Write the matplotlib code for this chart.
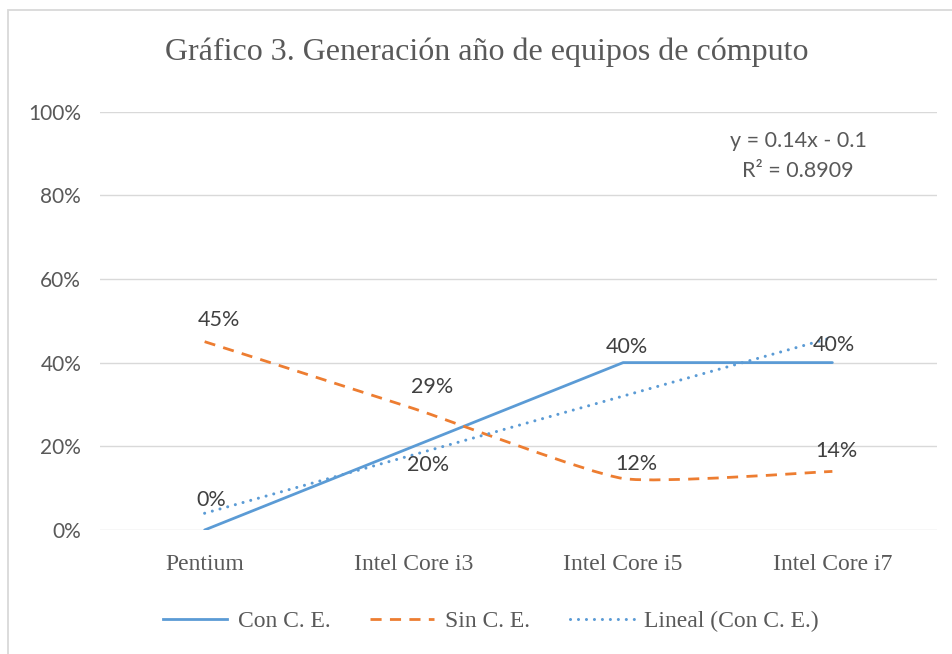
import numpy as np
import matplotlib
matplotlib.use("Agg")
import matplotlib.pyplot as plt
from matplotlib.path import Path
from matplotlib.patches import PathPatch, Rectangle
from matplotlib.lines import Line2D
from matplotlib.ticker import PercentFormatter

categories = ["Pentium", "Intel Core i3", "Intel Core i5", "Intel Core i7"]
con_ce = [0.00, 0.20, 0.40, 0.40]
sin_ce = [0.45, 0.29, 0.123, 0.14]
con_labels = ["0%", "20%", "40%", "40%"]
sin_labels = ["45%", "29%", "12%", "14%"]
yticks = [0.0, 0.2, 0.4, 0.6, 0.8, 1.0]

BLUE = "#5B9BD5"
ORANGE = "#ED7D31"
GRID = "#D9D9D9"
TXT = "#595959"
LBL = "#404040"
SERIF = "Liberation Serif"
SANS = "Lato"

fig = plt.figure(figsize=(9.53, 6.54), dpi=100)
fig.patches.append(Rectangle((8 / 953, -0.05), 1.2, (654 - 10) / 654 + 0.05,
                             transform=fig.transFigure, fill=False,
                             edgecolor=GRID, linewidth=1.3, zorder=0))

ax = fig.add_axes([100 / 953, (654 - 530) / 654, 837 / 953, 418.5 / 654])
x = np.arange(1, len(categories) + 1)

ax.set_ylim(0, 1.0)
ax.set_xlim(0.5, len(categories) + 0.5)
ax.set_yticks(yticks)
ax.yaxis.set_major_formatter(PercentFormatter(1.0, decimals=0))
ax.grid(axis="y", color=GRID, linewidth=1.0)
ax.set_axisbelow(True)
for s in ax.spines.values():
    s.set_visible(False)
ax.tick_params(axis="both", length=0)
ax.tick_params(axis="y", pad=13.5, labelsize=15, labelcolor=TXT)
ax.set_yticklabels([f"{int(round(v*100))}%" for v in yticks], family=SANS)
ax.set_xticks(x)
ax.set_xticklabels(categories, family=SERIF, fontsize=17, color=TXT)
ax.tick_params(axis="x", pad=17)

lw = 2.0
# Con C. E.
ax.plot(x, con_ce, color=BLUE, linewidth=lw, solid_capstyle="round", zorder=3)

# Sin C. E. smoothed (light bezier rounding)
tension = 1.0 / 12.0
pts = np.column_stack([x, sin_ce]).astype(float)
verts = [tuple(pts[0])]
codes = [Path.MOVETO]
n = len(pts)
for i in range(n - 1):
    p0 = pts[i - 1] if i > 0 else pts[i]
    p1 = pts[i]
    p2 = pts[i + 1]
    p3 = pts[i + 2] if i + 2 < n else pts[i + 1]
    c1 = p1 + (p2 - p0) * tension
    c2 = p2 - (p3 - p1) * tension
    verts += [tuple(c1), tuple(c2), tuple(p2)]
    codes += [Path.CURVE4] * 3
patch = PathPatch(Path(verts, codes), fill=False, edgecolor=ORANGE,
                  linewidth=lw, linestyle=(0, (4, 3)), zorder=3)
ax.add_patch(patch)

# linear trend of Con C. E.
slope, intercept = np.polyfit(x, con_ce, 1)
pred = slope * x + intercept
ss_res = np.sum((np.array(con_ce) - pred) ** 2)
ss_tot = np.sum((np.array(con_ce) - np.mean(con_ce)) ** 2)
r2 = 1 - ss_res / ss_tot
xt = np.array([x[0], x[-1]], dtype=float)
DOT = (0, (0.01, 2.6))
ax.plot(xt, slope * xt + intercept, color=BLUE, linewidth=2.2,
        linestyle=DOT, dash_capstyle="round", zorder=3)

# data labels (offsets in pixels -> points)
px = 0.72
con_off = [(7, 30), (14, -19), (4, 16), (2, 18)]
sin_off = [(14, 22), (18, 22), (13, 15), (4, 20)]
for xi, yi, t, o in zip(x, con_ce, con_labels, con_off):
    ax.annotate(t, (xi, yi), xytext=(o[0] * px, o[1] * px), textcoords="offset points",
                ha="center", va="center", fontsize=15.5, family=SANS, color=LBL, zorder=4)
for xi, yi, t, o in zip(x, sin_ce, sin_labels, sin_off):
    ax.annotate(t, (xi, yi), xytext=(o[0] * px, o[1] * px), textcoords="offset points",
                ha="center", va="center", fontsize=15.5, family=SANS, color=LBL, zorder=4)

# equation
sign = "-" if intercept < 0 else "+"
fig.text(798 / 953, 1 - 141 / 654, f"y = {slope:.2f}x {sign} {abs(intercept):.1f}",
         ha="center", va="center", fontsize=15.5, family=SANS, color=TXT)
fig.text(798 / 953, 1 - 171 / 654, f"R² = {r2:.4f}",
         ha="center", va="center", fontsize=15.5, family=SANS, color=TXT)

# title
fig.text(487 / 953, 1 - 52 / 654, "Gráfico 3. Generación año de equipos de cómputo",
         ha="center", va="center", fontsize=23, family=SERIF, color=TXT)

# legend
handles = [
    Line2D([], [], color=BLUE, linewidth=lw),
    Line2D([], [], color=ORANGE, linewidth=lw, linestyle=(0, (4, 3))),
    Line2D([], [], color=BLUE, linewidth=2.2, linestyle=DOT, dash_capstyle="round"),
]
leg = fig.legend(handles, ["Con C. E.", "Sin C. E.", "Lineal (Con C. E.)"],
                 loc="center", bbox_to_anchor=(491 / 953, 1 - 621 / 654),
                 ncol=3, frameon=False, handlelength=2.7, columnspacing=1.7,
                 handletextpad=0.45, prop={"family": SERIF, "size": 17})
for t in leg.get_texts():
    t.set_color(TXT)

fig.savefig("out.png", dpi=100, facecolor="white")
